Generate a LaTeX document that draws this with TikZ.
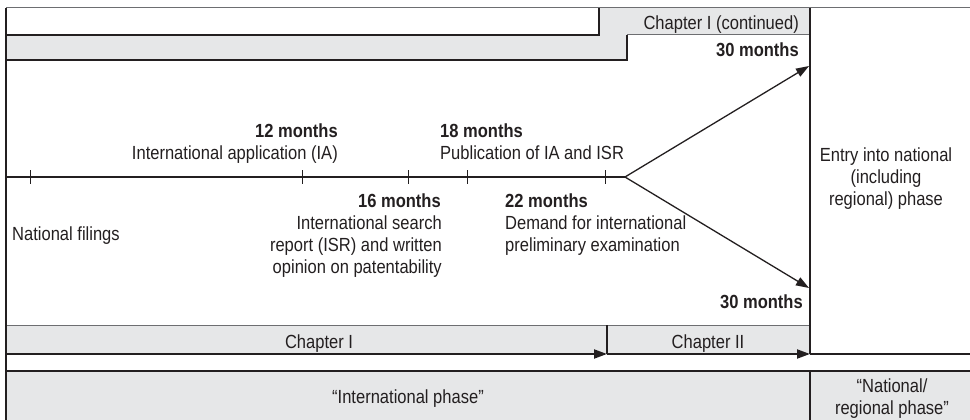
\documentclass[tikz,border=0pt]{standalone}
\usepackage{fontspec}
\setmainfont{Liberation Sans}[FakeStretch=0.87]
\usetikzlibrary{arrows.meta}
\definecolor{band}{HTML}{E6E7E8}
\definecolor{ink}{HTML}{231F20}
\definecolor{rulegrey}{HTML}{6D6E71}
\begin{document}
\begin{tikzpicture}[x=1pt,y=-1pt,
  txt/.style={inner sep=0pt, text=ink, font=\fontsize{19}{22}\selectfont},
  bold/.style={txt, font=\fontsize{19}{22}\selectfont\bfseries},
  thinline/.style={draw=ink, line width=1.1pt},
  greyline/.style={draw=rulegrey, line width=1pt},
  thickline/.style={draw=ink, line width=2pt},
  tip/.style={-{Triangle[length=13pt,width=9pt]}},
  tick/.style={draw=ink, line width=1pt}]
\useasboundingbox (0,0) rectangle (970,420);
% bands
\fill[band] (599,8) rectangle (810,35);
\fill[band] (6,35) rectangle (627,60);
\fill[band] (6,325) rectangle (810,354);
\fill[band] (6,371) rectangle (970,420);
% frame lines
\draw[greyline] (6,8) -- (970,8);
\draw[thinline] (6,35) -- (599,35) -- (599,8);
\draw[thinline] (6,60) -- (627,60) -- (627,35);
\draw[greyline] (627,35) -- (810,35);
\draw[greyline] (6,325) -- (810,325);
\draw[thinline] (607,325) -- (607,354);
\draw[thinline] (6,371) -- (970,371);
\draw[thinline] (810,371) -- (810,420);
\draw[thinline] (810,354) -- (970,354);
\draw[thinline] (6,8) -- (6,420);
\draw[thickline] (810,8) -- (810,354);
% coordinates
\coordinate (start) at (6,177);
\coordinate (branch) at (625,177);
\coordinate (up) at (809,66);
\coordinate (down) at (809,288);
\coordinate (c0) at (6,354);
\coordinate (c1) at (607,354);
\coordinate (c2) at (810,354);
% timeline
\draw[thinline] (start) -- (branch);
\foreach \x in {30,302,408,467,605} \draw[tick] (\x,170) -- (\x,184);
\draw[thinline, line width=1.3pt, tip] (branch) -- (up);
\draw[thinline, line width=1.3pt, tip] (branch) -- (down);
\draw[thickline, tip] (c0) -- (c1);
\draw[thickline, tip] (c1) -- (c2);
% texts (base anchor of a multi-line node = baseline of its last line)
\node[txt, anchor=base east] (cont) at (799,30) {Chapter I (continued)};
\node[bold, anchor=base east] (m30a) at (799,57) {30 months};
\node[bold, anchor=base east] (m30b) at (803,308) {30 months};
\node[bold, anchor=base east] (m12) at (338,137) {12 months};
\node[txt, anchor=base east] (ia) at (338,159) {International application (IA)};
\node[bold, anchor=base west] (m18) at (440,137) {18 months};
\node[txt, anchor=base west] (pub) at (440,159) {Publication of IA and ISR};
\node[bold, anchor=base east] (m16) at (441,207) {16 months};
\node[txt, anchor=base east, align=right] (isr) at (442,273) {International search\\report (ISR) and written\\opinion on patentability};
\node[bold, anchor=base west] (m22) at (505,207) {22 months};
\node[txt, anchor=base west, align=left] (dem) at (505,251) {Demand for international\\preliminary examination};
\node[txt, anchor=base west] (nat) at (12,240) {National filings};
\node[txt, anchor=base, align=center] (entry) at (886,205) {Entry into national\\(including\\regional) phase};
\node[txt, anchor=base] (ch1) at (319,348) {Chapter I};
\node[txt, anchor=base] (ch2) at (708,348) {Chapter II};
\node[txt, anchor=base] (intl) at (408,403) {“International phase”};
\node[txt, anchor=base, align=center] (natl) at (892,414) {“National/\\regional phase”};
\end{tikzpicture}
\end{document}
